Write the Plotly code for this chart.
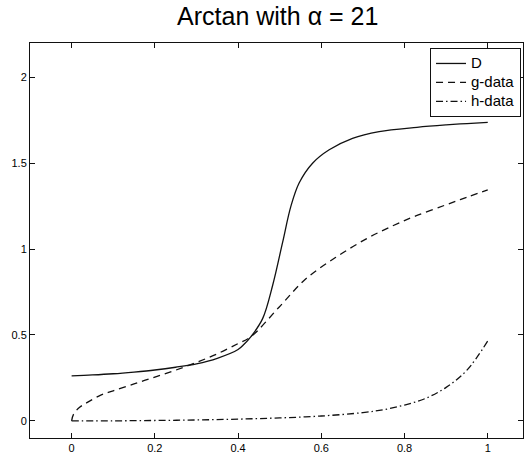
import plotly.graph_objects as go

# Sampled curve values
x_D = [0.00, 0.05, 0.10, 0.15, 0.20, 0.25, 0.30, 0.35, 0.40, 0.415, 0.431, 0.459, 0.483,
       0.507, 0.527, 0.547, 0.579, 0.619, 0.675, 0.739, 0.83, 0.90, 0.95, 1.00]
y_D = [0.262, 0.267, 0.274, 0.284, 0.296, 0.312, 0.332, 0.364, 0.415, 0.447, 0.490, 0.595, 0.788,
       1.039, 1.250, 1.386, 1.500, 1.578, 1.645, 1.684, 1.709, 1.723, 1.731, 1.738]

x_g = [0.00, 0.005, 0.02, 0.04, 0.07, 0.10, 0.15, 0.20, 0.25, 0.30, 0.35, 0.40,
       0.431, 0.499, 0.563, 0.635, 0.707, 0.771, 0.827, 0.90, 0.95, 1.00]
y_g = [0.000, 0.040, 0.080, 0.110, 0.150, 0.175, 0.215, 0.255, 0.295, 0.340, 0.390, 0.450,
       0.490, 0.663, 0.827, 0.952, 1.058, 1.135, 1.193, 1.258, 1.302, 1.345]

x_h = [0.00, 0.10, 0.20, 0.30, 0.40, 0.50, 0.60, 0.70, 0.75, 0.80, 0.85, 0.90, 0.95, 1.00]
y_h = [0.000, 0.000, 0.002, 0.005, 0.010, 0.017, 0.028, 0.048, 0.065, 0.092, 0.130, 0.195, 0.295, 0.465]

series_names = ["D", "g-data", "h-data"]
x_ticks = [0, 0.2, 0.4, 0.6, 0.8, 1]
x_tick_text = ["0", "0.2", "0.4", "0.6", "0.8", "1"]
y_ticks = [0, 0.5, 1, 1.5, 2]
y_tick_text = ["0", "0.5", "1", "1.5", "2"]

ink = "#111111"
curve = dict(color=ink, width=1.3, shape="spline", smoothing=1.0)
dashes = [None, "7px,5px", "7px,3px,1.5px,3px"]


def legend_label(name):
    # larger text inside a compact legend row
    return "<span style='font-size:15px'>%s</span>" % name


fig = go.Figure()
for xs, ys, name, dash in zip([x_D, x_g, x_h], [y_D, y_g, y_h], series_names, dashes):
    line = dict(**curve)
    if dash:
        line["dash"] = dash
    fig.add_trace(go.Scatter(x=xs, y=ys, name=legend_label(name), mode="lines", line=line))

axis_common = dict(
    showline=True, linecolor=ink, linewidth=1, mirror="allticks",
    ticks="inside", ticklen=5, tickcolor=ink, tickwidth=1,
    showgrid=False, zeroline=False,
    tickfont=dict(family="Liberation Sans, Arial", size=11, color="black"),
)

fig.update_layout(
    width=526, height=456,
    margin=dict(l=30, r=2, t=43, b=15),
    paper_bgcolor="white", plot_bgcolor="white",
    title=dict(text="Arctan with \u03b1 = 21", x=0.528, xanchor="center",
               y=1 - 16 / 456, yanchor="middle", yref="container",
               font=dict(family="Liberation Sans, Arial", size=25, color="black")),
    xaxis=dict(range=[-0.1, 1.0847], tickvals=x_ticks, ticktext=x_tick_text, **axis_common),
    yaxis=dict(range=[-0.1, 2.2], tickvals=y_ticks, ticktext=y_tick_text, **axis_common),
    legend=dict(x=0.996, xanchor="right", y=1 - 5 / 398, yanchor="top",
                bordercolor=ink, borderwidth=1, bgcolor="white",
                font=dict(family="Liberation Sans, Arial", size=11, color="black"),
                tracegroupgap=0, itemwidth=30),
    showlegend=True,
)

fig.write_html("out.html")
